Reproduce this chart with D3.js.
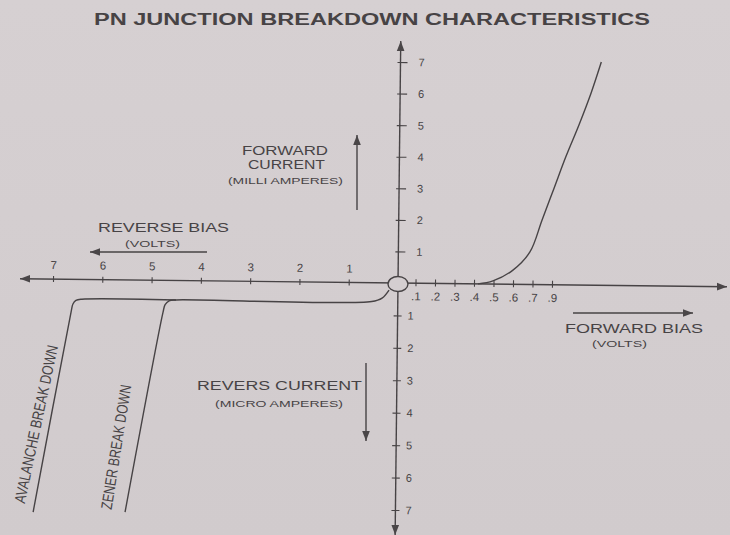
<!DOCTYPE html>
<html>
<head>
<meta charset="utf-8">
<script src="https://cdn.jsdelivr.net/npm/d3@7"></script>
<style>
  html, body { margin: 0; padding: 0; background: #d3cdcf; }
  svg { display: block; }
  text { font-family: "Liberation Sans", Arial, sans-serif; fill: #474345; }
</style>
</head>
<body>
<svg id="chart" width="730" height="535"></svg>
<script>
// ---------------- DATA ----------------
const title = "PN JUNCTION BREAKDOWN CHARACTERISTICS";

// Forward bias axis (volts) and its printed labels (as printed in the figure)
const forwardVoltTicks  = [0.1, 0.2, 0.3, 0.4, 0.5, 0.6, 0.7, 0.8];
const forwardVoltLabels = [".1", ".2", ".3", ".4", ".5", ".6", ".7", ".9"];
// Reverse bias axis (volts)
const reverseVoltTicks  = [1, 2, 3, 4, 5, 6, 7];
// Forward current axis (milliamperes)
const forwardCurrentTicks = [1, 2, 3, 4, 5, 6, 7];
// Reverse current axis (microamperes)
const reverseCurrentTicks = [1, 2, 3, 4, 5, 6, 7];

// Forward characteristic: voltage (V) vs current (mA)
const fwdVolts   = [0.42, 0.497, 0.599, 0.685, 0.745, 0.805, 0.865, 0.929, 0.989, 1.04];
const fwdCurrent = [0.0,  0.10,  0.45,  1.03,  2.04,  3.06,  4.08,  5.07,  6.08,  7.07];

// Reverse characteristic up to Zener breakdown: reverse voltage (V) vs reverse current (µA)
const zenerVolts   = [0.18, 0.32, 0.53, 4.50, 4.64, 4.72, 4.76, 5.485];
const zenerCurrent = [0.22, 0.47, 0.58, 0.60, 0.63, 0.75, 0.98, 7.16];

// Reverse characteristic continuing to avalanche breakdown
const avalancheVolts   = [4.50, 6.41, 6.53, 6.59, 6.62, 7.35];
const avalancheCurrent = [0.60, 0.61, 0.65, 0.76, 0.96, 7.19];

// ---------------- DRAWING ----------------
const svg = d3.select("#chart");
const W = 730, H = 535;
const ox = 398, oy = 283;   // origin

const defs = svg.append("defs");
const grad = defs.append("linearGradient").attr("id", "bg").attr("x1", 0).attr("y1", 0).attr("x2", 0).attr("y2", 1);
grad.append("stop").attr("offset", "0%").attr("stop-color", "#d6d0d2");
grad.append("stop").attr("offset", "100%").attr("stop-color", "#d1cbcd");
defs.append("marker").attr("id", "ah").attr("viewBox", "0 0 10 10")
  .attr("refX", 10).attr("refY", 5).attr("markerWidth", 10).attr("markerHeight", 10)
  .attr("markerUnits", "userSpaceOnUse").attr("orient", "auto")
  .append("path").attr("d", "M0,1.2 L10,5 L0,8.8 Z").attr("fill", "#4a4648");

svg.append("rect").attr("width", W).attr("height", H).attr("fill", "url(#bg)");

const ink = "#474345";

// Scales
const xFwd = d3.scaleLinear().domain([0, 0.8]).range([396, 552]);
const xRev = d3.scaleLinear().domain([0, 7]).range([ox, 53]);
const yFwd = d3.scaleLinear().domain([0, 7]).range([oy, 62]);
const yRev = d3.scaleLinear().domain([0, 7]).range([oy, 510]);

const plot = svg.append("g").attr("transform", `rotate(0.65, ${ox}, ${oy})`);

// Main axis lines with arrowheads
plot.append("line").attr("x1", ox).attr("y1", oy).attr("x2", 20).attr("y2", oy)
  .attr("stroke", ink).attr("stroke-width", 1.4).attr("marker-end", "url(#ah)");
plot.append("line").attr("x1", ox).attr("y1", oy).attr("x2", 727).attr("y2", oy)
  .attr("stroke", ink).attr("stroke-width", 1.4).attr("marker-end", "url(#ah)");
plot.append("line").attr("x1", ox).attr("y1", oy).attr("x2", ox).attr("y2", 41)
  .attr("stroke", ink).attr("stroke-width", 1.4).attr("marker-end", "url(#ah)");
plot.append("line").attr("x1", ox).attr("y1", oy).attr("x2", ox).attr("y2", 535)
  .attr("stroke", ink).attr("stroke-width", 1.4).attr("marker-end", "url(#ah)");

function styleAxis(g) {
  g.select(".domain").remove();
  g.selectAll(".tick line").attr("stroke", ink).attr("stroke-width", 1.1);
  g.selectAll(".tick text").attr("fill", "#474345").style("font-family", '"Liberation Sans", Arial, sans-serif');
}

// Reverse voltage axis (labels above)
plot.append("g").attr("transform", `translate(0,${oy})`)
  .call(d3.axisTop(xRev).tickValues(reverseVoltTicks).tickSize(4).tickPadding(6).tickFormat(d3.format("d")))
  .call(styleAxis)
  .call(g => { g.selectAll(".tick line").attr("y1", 3).attr("y2", -3);
               g.selectAll(".tick text").style("font-size", "11.5px"); });

// Forward voltage axis (labels below)
plot.append("g").attr("transform", `translate(0,${oy})`)
  .call(d3.axisBottom(xFwd).tickValues(forwardVoltTicks).tickSize(4).tickPadding(5)
        .tickFormat((d, i) => forwardVoltLabels[i]))
  .call(styleAxis)
  .call(g => { g.selectAll(".tick line").attr("y1", -4).attr("y2", 3);
               g.selectAll(".tick text").style("font-size", "11.5px"); });

// Forward current axis (labels right)
plot.append("g").attr("transform", `translate(${ox},0)`)
  .call(d3.axisRight(yFwd).tickValues(forwardCurrentTicks).tickSize(7).tickPadding(11).tickFormat(d3.format("d")))
  .call(styleAxis)
  .call(g => { g.selectAll(".tick line").attr("x1", -3).attr("x2", 7);
               g.selectAll(".tick text").style("font-size", "11px"); });

// Reverse current axis (labels right)
plot.append("g").attr("transform", `translate(${ox},0)`)
  .call(d3.axisRight(yRev).tickValues(reverseCurrentTicks).tickSize(4).tickPadding(6).tickFormat(d3.format("d")))
  .call(styleAxis)
  .call(g => { g.selectAll(".tick line").attr("x1", -4).attr("x2", 4);
               g.selectAll(".tick text").style("font-size", "11px"); });

// Curves
const fwdData = fwdVolts.map((v, i) => [v, fwdCurrent[i]]);
const zenData = zenerVolts.map((v, i) => [v, zenerCurrent[i]]);
const avaData = avalancheVolts.map((v, i) => [v, avalancheCurrent[i]]);

const lineFwd = d3.line().x(d => xFwd(d[0])).y(d => yFwd(d[1])).curve(d3.curveCatmullRom.alpha(0.5));
const lineRev = d3.line().x(d => xRev(d[0])).y(d => yRev(d[1])).curve(d3.curveCatmullRom.alpha(0.5));

plot.append("path").attr("d", lineFwd(fwdData)).attr("fill", "none").attr("stroke", ink).attr("stroke-width", 1.4);
plot.append("path").attr("d", lineRev(zenData)).attr("fill", "none").attr("stroke", ink).attr("stroke-width", 1.4);
plot.append("path").attr("d", lineRev(avaData)).attr("fill", "none").attr("stroke", ink).attr("stroke-width", 1.4);

// Origin circle
plot.append("ellipse").attr("cx", ox).attr("cy", oy + 1).attr("rx", 10).attr("ry", 7.5)
  .attr("fill", "#d4ced0").attr("stroke", ink).attr("stroke-width", 1.4);

// ---------------- TEXT LABELS ----------------
function label(txt, x, y, size, len, weight) {
  svg.append("text").attr("x", x).attr("y", y).attr("text-anchor", "middle")
    .attr("textLength", len).attr("lengthAdjust", "spacingAndGlyphs")
    .style("font-size", size + "px").style("font-weight", weight || "normal").text(txt);
}
function arrow(x1, y1, x2, y2) {
  svg.append("line").attr("x1", x1).attr("y1", y1).attr("x2", x2).attr("y2", y2)
    .attr("stroke", ink).attr("stroke-width", 1.4).attr("marker-end", "url(#ah)");
}

label(title, 372, 25, 16, 556, "bold");

label("FORWARD", 285, 155, 13, 86);
label("CURRENT", 286.5, 169, 13, 77);
label("(MILLI AMPERES)", 285.5, 184, 8.5, 115);
arrow(357, 210, 357, 135);

label("REVERSE BIAS", 163.5, 231.5, 13, 131);
label("(VOLTS)", 152.5, 246.5, 9.5, 55);
arrow(207, 252, 90, 252);

label("FORWARD BIAS", 634, 333, 13, 138);
label("(VOLTS)", 619.5, 346.5, 9.5, 55);
arrow(573, 313, 693, 313);

label("REVERS CURRENT", 279.5, 390, 12.5, 165);
label("(MICRO AMPERES)", 279, 407, 8.5, 128);
arrow(366, 363, 366, 441);

// Rotated breakdown labels
svg.append("text").attr("transform", "translate(36,424) rotate(-78)")
  .attr("text-anchor", "middle").attr("dominant-baseline", "central")
  .attr("textLength", 161).attr("lengthAdjust", "spacingAndGlyphs")
  .style("font-size", "15.5px").text("AVALANCHE BREAK DOWN");
svg.append("text").attr("transform", "translate(116,447) rotate(-81)")
  .attr("text-anchor", "middle").attr("dominant-baseline", "central")
  .attr("textLength", 126).attr("lengthAdjust", "spacingAndGlyphs")
  .style("font-size", "15.5px").text("ZENER BREAK DOWN");
</script>
</body>
</html>
